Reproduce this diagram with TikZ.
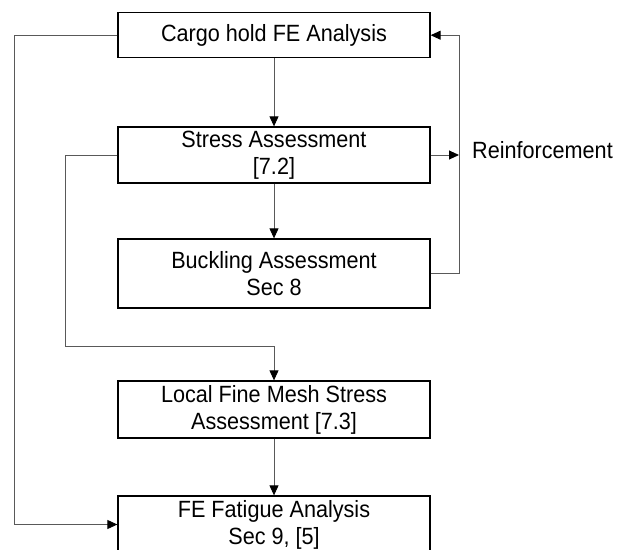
\documentclass[tikz,border=0pt]{standalone}
\usepackage{fontspec}
\setmainfont[FakeStretch=0.92]{Liberation Sans}
\usetikzlibrary{arrows.meta}
\begin{document}
\begin{tikzpicture}[x=1pt,y=-1pt,
  box/.style={draw=black, line width=1.3pt, minimum width=312pt, align=center, inner sep=0pt,
    font=\fontsize{23.5}{27}\selectfont},
  conn/.style={draw=black!65, line width=0.9pt},
  arr/.style={conn, -{Triangle[length=10pt,width=9pt,color=black]}},
  lbl/.style={font=\fontsize{23.5}{27}\selectfont, inner sep=0pt}]
\useasboundingbox (0,0) rectangle (621,549);
\clip (0,0) rectangle (621,549);
\node[box, minimum height=45pt] (b1) at (274,35.2) {Cargo hold FE Analysis};
\node[box, minimum height=56pt] (b2) at (274,155) {Stress Assessment\\{[7.2]}};
\node[box, minimum height=69pt] (b3) at (274,273.5) {Buckling Assessment\\Sec 8};
\node[box, minimum height=57pt] (b4) at (274,409.5) {Local Fine Mesh Stress\\Assessment [7.3]};
\node[box, minimum height=57pt] (b5) at (274,524.5) {FE Fatigue Analysis\\Sec 9, [5]};
\node[lbl, anchor=base west] (re) at (472,158) {Reinforcement};
\coordinate (L1) at (14,35.2);
\coordinate (L2) at (65,155);
\coordinate (L2b) at (65,346);
\coordinate (R1) at (459,273.5);
\coordinate (R2) at (459,35.2);
\draw[arr] (b1.south) -- (b2.north);
\draw[arr] (b2.south) -- (b3.north);
\draw[arr] (b4.south) -- (b5.north);
\draw[arr] (b1.west) -- (L1) |- (b5.west);
\draw[arr] (b2.west) -- (L2) -- (L2b) -| (b4.north);
\draw[arr] (b3.east) -- (R1) -- (R2) -- (b1.east);
\draw[arr] (b2.east) -- (b2.east -| R1);
\end{tikzpicture}
\end{document}
